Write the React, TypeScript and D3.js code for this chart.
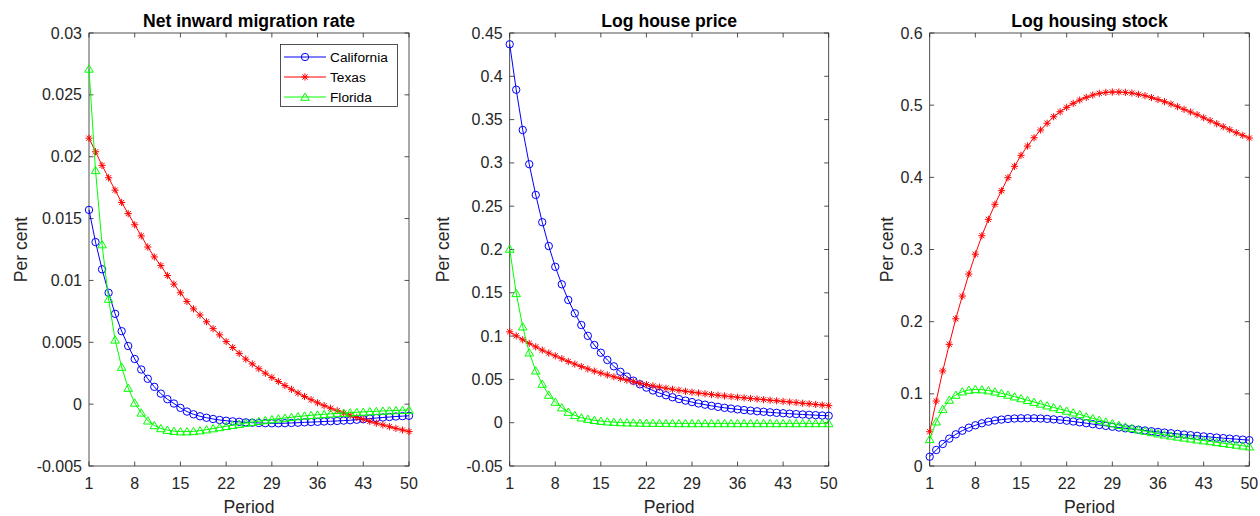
import React from 'react';
import * as d3 from 'd3';

// ---------- data ----------
const periods: number[] = d3.range(1, 51);
const xTickValues = [1, 8, 15, 22, 29, 36, 43, 50];
const seriesNames = ['California', 'Texas', 'Florida'];

const migCalifornia = [
  0.0157, 0.0131, 0.0109, 0.009, 0.0073, 0.0059, 0.0047, 0.00365, 0.0028, 0.00205,
  0.0014, 0.00085, 0.0004, 0.00005, -0.0003, -0.0006, -0.00082, -0.00098, -0.0011, -0.0012,
  -0.00128, -0.00134, -0.00139, -0.00143, -0.00147, -0.0015, -0.00152, -0.00154, -0.00155, -0.00155,
  -0.00154, -0.00152, -0.0015, -0.00147, -0.00145, -0.00143, -0.0014, -0.00138, -0.00136, -0.00133,
  -0.0013, -0.00126, -0.00122, -0.00117, -0.00112, -0.00108, -0.00104, -0.001, -0.00097, -0.00094,
];
const migTexas = [
  0.0215, 0.0204, 0.0193, 0.0183, 0.0173, 0.0163, 0.0154, 0.0145, 0.0136, 0.0127,
  0.0119, 0.0112, 0.0104, 0.0097, 0.009, 0.0083, 0.0077, 0.0072, 0.00666, 0.0061,
  0.0056, 0.00506, 0.00458, 0.0041, 0.00364, 0.00325, 0.00286, 0.0025, 0.00216, 0.00183,
  0.0015, 0.0012, 0.0009, 0.00062, 0.00036, 0.00011, -0.00012, -0.00033, -0.00053, -0.00072,
  -0.0009, -0.00107, -0.00123, -0.00139, -0.00154, -0.00168, -0.00182, -0.00196, -0.00209, -0.00222,
];
const migFlorida = [
  0.0271, 0.0189, 0.0129, 0.0085, 0.0052, 0.003, 0.0013, 0.0001, -0.0007, -0.00134,
  -0.00172, -0.00196, -0.0021, -0.00218, -0.00222, -0.00222, -0.0022, -0.00214, -0.00206, -0.00197,
  -0.00188, -0.00179, -0.0017, -0.00161, -0.00153, -0.00145, -0.00138, -0.00131, -0.00124, -0.00118,
  -0.00112, -0.00106, -0.001, -0.00095, -0.0009, -0.00086, -0.00082, -0.00078, -0.00075, -0.00072,
  -0.00069, -0.00066, -0.00063, -0.0006, -0.00058, -0.00055, -0.00053, -0.00051, -0.00049, -0.00047,
];

const priceCalifornia = [
  0.437, 0.3845, 0.338, 0.2985, 0.263, 0.2315, 0.204, 0.18, 0.1598, 0.1417,
  0.1263, 0.1128, 0.1003, 0.0897, 0.0808, 0.0724, 0.0651, 0.0588, 0.0533, 0.0485,
  0.0443, 0.0405, 0.0372, 0.0343, 0.0317, 0.0294, 0.0273, 0.0255, 0.0238, 0.0222,
  0.0208, 0.0195, 0.0183, 0.0172, 0.0163, 0.0154, 0.0146, 0.0139, 0.0132, 0.0126,
  0.012, 0.0114, 0.0109, 0.0104, 0.0099, 0.0095, 0.0091, 0.0087, 0.0083, 0.008,
];
const priceTexas = [
  0.105, 0.1003, 0.0958, 0.0916, 0.0876, 0.0838, 0.0804, 0.0772, 0.0739, 0.0707,
  0.0677, 0.0648, 0.0621, 0.0596, 0.0573, 0.0551, 0.053, 0.051, 0.0491, 0.0473,
  0.0456, 0.044, 0.0425, 0.0411, 0.0398, 0.0386, 0.0374, 0.0363, 0.0353, 0.0343,
  0.0334, 0.0325, 0.0317, 0.0309, 0.0301, 0.0294, 0.0287, 0.028, 0.0273, 0.0266,
  0.026, 0.0253, 0.0246, 0.0239, 0.0232, 0.0225, 0.0218, 0.0211, 0.0204, 0.0197,
];
const priceFlorida = [
  0.2006, 0.1494, 0.1109, 0.0809, 0.06, 0.0447, 0.032, 0.0239, 0.0174, 0.0123,
  0.0085, 0.0058, 0.0042, 0.0029, 0.0019, 0.0012, 0.0007, 0.0003, 0.0001, -0.0001,
  -0.0003, -0.0004, -0.0005, -0.0006, -0.0007, -0.0007, -0.0008, -0.0008, -0.0008, -0.0008,
  -0.0008, -0.0008, -0.0008, -0.0008, -0.0008, -0.0008, -0.0008, -0.0008, -0.0008, -0.0008,
  -0.0008, -0.0008, -0.0008, -0.0008, -0.0008, -0.0008, -0.0008, -0.0008, -0.0008, -0.0008,
];

const stockCalifornia = [
  0.0129, 0.0222, 0.0305, 0.0379, 0.0439, 0.0489, 0.0531, 0.0564, 0.0592, 0.0614,
  0.0631, 0.0643, 0.0652, 0.0658, 0.0661, 0.0662, 0.0661, 0.0658, 0.0653, 0.0646,
  0.0638, 0.0628, 0.0617, 0.0605, 0.0593, 0.058, 0.0568, 0.0556, 0.0544, 0.0533,
  0.0522, 0.0512, 0.0502, 0.0492, 0.0482, 0.0472, 0.0463, 0.0454, 0.0445, 0.0436,
  0.0427, 0.0418, 0.041, 0.0402, 0.0394, 0.0386, 0.0379, 0.0372, 0.0365, 0.0358,
];
const stockTexas = [
  0.0475, 0.09, 0.1316, 0.1686, 0.204, 0.2355, 0.266, 0.2935, 0.3191, 0.3418,
  0.3626, 0.3815, 0.3995, 0.4153, 0.4305, 0.4434, 0.4549, 0.4656, 0.4749, 0.484,
  0.4909, 0.497, 0.5025, 0.5071, 0.5108, 0.514, 0.5164, 0.5177, 0.5182, 0.5182,
  0.5177, 0.5168, 0.515, 0.5131, 0.5105, 0.5078, 0.5048, 0.5016, 0.4979, 0.4942,
  0.4905, 0.4868, 0.4826, 0.4785, 0.4743, 0.4702, 0.466, 0.4618, 0.4582, 0.4545,
];
const stockFlorida = [
  0.037, 0.0614, 0.0786, 0.0915, 0.0984, 0.103, 0.1053, 0.1062, 0.1058, 0.1046,
  0.1029, 0.1008, 0.0985, 0.0961, 0.0936, 0.0911, 0.0886, 0.0861, 0.0836, 0.0811,
  0.0787, 0.0763, 0.0739, 0.0716, 0.0685, 0.066, 0.0636, 0.0612, 0.0589, 0.0566,
  0.0544, 0.0523, 0.0503, 0.0484, 0.0466, 0.0449, 0.0433, 0.0418, 0.0404, 0.039,
  0.0377, 0.0364, 0.0352, 0.034, 0.0328, 0.0316, 0.0304, 0.0292, 0.028, 0.0268,
];

const migTicks = [-0.005, 0, 0.005, 0.01, 0.015, 0.02, 0.025, 0.03];
const migTickLabels = ['-0.005', '0', '0.005', '0.01', '0.015', '0.02', '0.025', '0.03'];
const priceTicks = [-0.05, 0, 0.05, 0.1, 0.15, 0.2, 0.25, 0.3, 0.35, 0.4, 0.45];
const priceTickLabels = ['-0.05', '0', '0.05', '0.1', '0.15', '0.2', '0.25', '0.3', '0.35', '0.4', '0.45'];
const stockTicks = [0, 0.1, 0.2, 0.3, 0.4, 0.5, 0.6];
const stockTickLabels = ['0', '0.1', '0.2', '0.3', '0.4', '0.5', '0.6'];

const titles = ['Net inward migration rate', 'Log house price', 'Log housing stock'];

// ---------- styles ----------
const COLORS = ['#0000ff', '#ff0000', '#00ff00'];
const MARKERS = ['circle', 'star', 'triangle'];
const AXIS = '#262626';
const FONT = '"Liberation Sans", Arial, Helvetica, sans-serif';
const TOP = 33;
const BOTTOM = 466;

function Marker({ kind, x, y, color }: { kind: string; x: number; y: number; color: string }) {
  if (kind === 'circle') {
    return <circle cx={x} cy={y} r={3.7} fill="none" stroke={color} strokeWidth={1} />;
  }
  if (kind === 'star') {
    const r = 3.6;
    const d = r * 0.72;
    const p = `M${x - r},${y}L${x + r},${y}M${x},${y - r}L${x},${y + r}M${x - d},${y - d}L${x + d},${y + d}M${x - d},${y + d}L${x + d},${y - d}`;
    return <path d={p} stroke={color} strokeWidth={1} fill="none" />;
  }
  const p = `M${x},${y - 4}L${x + 4.3},${y + 3.3}L${x - 4.3},${y + 3.3}Z`;
  return <path d={p} stroke={color} strokeWidth={1} fill="none" />;
}

type PanelProps = {
  left: number;
  right: number;
  title: string;
  ticks: number[];
  tickLabels: string[];
  series: number[][];
  ylabelX: number;
  legend?: boolean;
};

function Panel({ left, right, title, ticks, tickLabels, series, ylabelX, legend }: PanelProps) {
  const x = d3.scaleLinear().domain([1, 50]).range([left, right]);
  const y = d3.scaleLinear().domain([ticks[0], ticks[ticks.length - 1]]).range([BOTTOM, TOP]);
  const line = d3
    .line<number>()
    .x((_, i) => x(periods[i]))
    .y((v) => y(v));
  const tl = 4.5;
  const cx = (left + right) / 2;
  return (
    <g>
      <rect x={left} y={TOP} width={right - left} height={BOTTOM - TOP} fill="#fff" stroke={AXIS} strokeWidth={0.8} />
      {xTickValues.map((t) => (
        <g key={'x' + t}>
          <line x1={x(t)} x2={x(t)} y1={BOTTOM} y2={BOTTOM - tl} stroke={AXIS} strokeWidth={0.8} />
          <line x1={x(t)} x2={x(t)} y1={TOP} y2={TOP + tl} stroke={AXIS} strokeWidth={0.8} />
          <text x={x(t)} y={489} textAnchor="middle" fontSize={16} fill={AXIS} fontFamily={FONT}>
            {t}
          </text>
        </g>
      ))}
      {ticks.map((t, i) => (
        <g key={'y' + i}>
          <line x1={left} x2={left + tl} y1={y(t)} y2={y(t)} stroke={AXIS} strokeWidth={0.8} />
          <line x1={right} x2={right - tl} y1={y(t)} y2={y(t)} stroke={AXIS} strokeWidth={0.8} />
          <text x={left - 7} y={y(t) + 5.5} textAnchor="end" fontSize={16} fill={AXIS} fontFamily={FONT}>
            {tickLabels[i]}
          </text>
        </g>
      ))}
      <text x={cx} y={26.5} textAnchor="middle" fontSize={17.6} fontWeight="bold" fill="#000" fontFamily={FONT}>
        {title}
      </text>
      <text x={cx} y={513} textAnchor="middle" fontSize={17.6} fill={AXIS} fontFamily={FONT}>
        Period
      </text>
      <text
        transform={`translate(${ylabelX},${(TOP + BOTTOM) / 2}) rotate(-90)`}
        textAnchor="middle"
        fontSize={17.6}
        fill={AXIS}
        fontFamily={FONT}
      >
        Per cent
      </text>
      {series.map((s, si) => (
        <g key={'s' + si}>
          <path d={line(s) || ''} fill="none" stroke={COLORS[si]} strokeWidth={1} />
          {s.map((v, i) => (
            <Marker key={i} kind={MARKERS[si]} x={x(periods[i])} y={y(v)} color={COLORS[si]} />
          ))}
        </g>
      ))}
      {legend && (
        <g>
          <rect x={280.5} y={44.5} width={117} height={62} fill="#fff" stroke={AXIS} strokeWidth={0.8} />
          {seriesNames.map((n, i) => {
            const ly = 57 + i * 20;
            return (
              <g key={n}>
                <line x1={284} x2={326} y1={ly} y2={ly} stroke={COLORS[i]} strokeWidth={1} />
                <Marker kind={MARKERS[i]} x={305} y={ly} color={COLORS[i]} />
                <text x={330} y={ly + 5} fontSize={13.7} fill="#000" fontFamily={FONT}>
                  {n}
                </text>
              </g>
            );
          })}
        </g>
      )}
    </g>
  );
}

export default function App() {
  return (
    <svg
      width={1260}
      height={516}
      style={{ position: 'absolute', left: 0, top: 0, background: '#fff' }}
    >
      <rect x={0} y={0} width={1260} height={516} fill="#fff" />
      <Panel
        left={89}
        right={409}
        title={titles[0]}
        ticks={migTicks}
        tickLabels={migTickLabels}
        series={[migCalifornia, migTexas, migFlorida]}
        ylabelX={27}
        legend
      />
      <Panel
        left={509.7}
        right={828.7}
        title={titles[1]}
        ticks={priceTicks}
        tickLabels={priceTickLabels}
        series={[priceCalifornia, priceTexas, priceFlorida]}
        ylabelX={449}
      />
      <Panel
        left={929.7}
        right={1249.3}
        title={titles[2]}
        ticks={stockTicks}
        tickLabels={stockTickLabels}
        series={[stockCalifornia, stockTexas, stockFlorida]}
        ylabelX={892.5}
      />
    </svg>
  );
}
